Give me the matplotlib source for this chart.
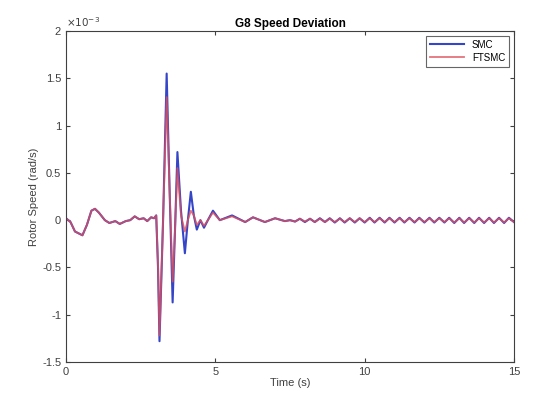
import numpy as np
import matplotlib.pyplot as plt

# values in units of 1e-3 rad/s
t_smc = [0.00, 0.15, 0.30, 0.55, 0.70, 0.85, 0.97, 1.10, 1.30, 1.45, 1.65, 1.80, 2.00, 2.15,
         2.30, 2.45, 2.60, 2.72, 2.85, 2.95, 3.02, 3.08, 3.13, 3.25, 3.37, 3.47, 3.57, 3.65,
         3.73, 3.85, 3.98, 4.08, 4.18, 4.28, 4.38, 4.50, 4.62, 4.75, 4.92, 5.15, 5.56, 6.00,
         6.26, 6.66, 7.00, 7.33, 7.50, 7.67, 7.83, 8.00, 8.17, 8.33, 8.50, 8.67, 8.83, 9.00,
         9.17, 9.33, 9.50, 9.67, 9.83, 10.00, 10.17, 10.33, 10.50, 10.67, 10.83, 11.00, 11.17,
         11.33, 11.50, 11.67, 11.83, 12.00, 12.17, 12.33, 12.50, 12.67, 12.83, 13.00, 13.17,
         13.33, 13.50, 13.67, 13.83, 14.00, 14.17, 14.33, 14.50, 14.67, 14.83, 15.00]
smc = [0.02, -0.02, -0.12, -0.16, -0.05, 0.10, 0.12, 0.08, 0.00, -0.03, -0.01, -0.04, -0.01, 0.00,
       0.04, 0.01, 0.02, -0.01, 0.03, 0.02, 0.05, -0.50, -1.28, 0.00, 1.55, 0.30, -0.87, -0.10,
       0.72, 0.10, -0.35, 0.00, 0.30, 0.05, -0.10, 0.00, -0.08, 0.00, 0.10, 0.00, 0.05, -0.02,
       0.03, -0.02, 0.02, -0.01, 0.00, -0.015, 0.015, -0.02, 0.015, -0.02, 0.02, -0.02, 0.02, -0.025,
       0.02, -0.025, 0.02, -0.025, 0.02, -0.025, 0.025, -0.025, 0.025, -0.025, 0.025, -0.025, 0.025,
       -0.025, 0.025, -0.025, 0.025, -0.025, 0.025, -0.025, 0.025, -0.025, 0.025, -0.03, 0.025,
       -0.03, 0.025, -0.03, 0.025, -0.03, 0.025, -0.03, 0.025, -0.03, 0.025, -0.02]

t_ftsmc = t_smc
ftsmc = [0.02, -0.02, -0.12, -0.16, -0.05, 0.10, 0.12, 0.08, 0.00, -0.03, -0.01, -0.04, -0.01, 0.00,
         0.04, 0.01, 0.02, -0.01, 0.03, 0.02, 0.05, -0.45, -1.22, 0.00, 1.30, 0.30, -0.65, -0.10,
         0.55, 0.05, -0.12, 0.00, 0.10, 0.05, -0.05, 0.00, -0.06, 0.00, 0.08, 0.00, 0.04, -0.02,
         0.03, -0.02, 0.02, -0.01, 0.00, -0.015, 0.015, -0.015, 0.015, -0.02, 0.015, -0.02, 0.015, -0.02,
         0.015, -0.02, 0.02, -0.02, 0.02, -0.02, 0.02, -0.02, 0.02, -0.02, 0.02, -0.02, 0.02,
         -0.02, 0.02, -0.02, 0.02, -0.02, 0.02, -0.02, 0.02, -0.02, 0.02, -0.025, 0.02,
         -0.025, 0.02, -0.025, 0.02, -0.025, 0.02, -0.025, 0.02, -0.025, 0.02, -0.02]

x_ticks = [0, 5, 10, 15]
y_ticks = [-1.5, -1, -0.5, 0, 0.5, 1, 1.5, 2]
y_labels = ['-1.5', '-1', '-0.5', '0', '0.5', '1', '1.5', '2']

plt.rcParams['font.family'] = ['Liberation Sans', 'DejaVu Sans']
fig = plt.figure(figsize=(5.35, 3.99), dpi=100)
ax = fig.add_axes([0.1234, 0.0927, 0.8373, 0.8296])

ax.plot(t_smc, smc, color='#3545c8', lw=1.5, label='SMC')
ax.plot(t_ftsmc, ftsmc, color='#e0505a', lw=1.3, alpha=0.8, label='FTSMC')

ax.set_xlim(0, 15)
ax.set_ylim(-1.5, 2)
ax.set_xticks(x_ticks)
ax.set_yticks(y_ticks)
ax.set_yticklabels(y_labels)
ax.tick_params(direction='in', top=True, right=True, labelsize=8, colors='#404040', length=3)
for s in ax.spines.values():
    s.set_color('#404040')
    s.set_linewidth(0.8)
ax.text(0.0, 1.005, r'$\times10^{-3}$', transform=ax.transAxes, fontsize=7.5,
        color='#404040', ha='left', va='bottom')

ax.set_title('G8 Speed Deviation', fontsize=8.5, fontweight='bold', pad=3)
ax.set_xlabel('Time (s)', fontsize=8, color='#404040', labelpad=1)
ax.set_ylabel('Rotor Speed (rad/s)', fontsize=8, color='#404040', labelpad=2)

leg = ax.legend(loc='upper right', fontsize=7, frameon=True, fancybox=False,
                handlelength=3.5, borderpad=0.4, labelspacing=0.3)
leg.get_frame().set_edgecolor('#404040')
leg.get_frame().set_linewidth(0.8)

fig.savefig('out.png', dpi=100)
